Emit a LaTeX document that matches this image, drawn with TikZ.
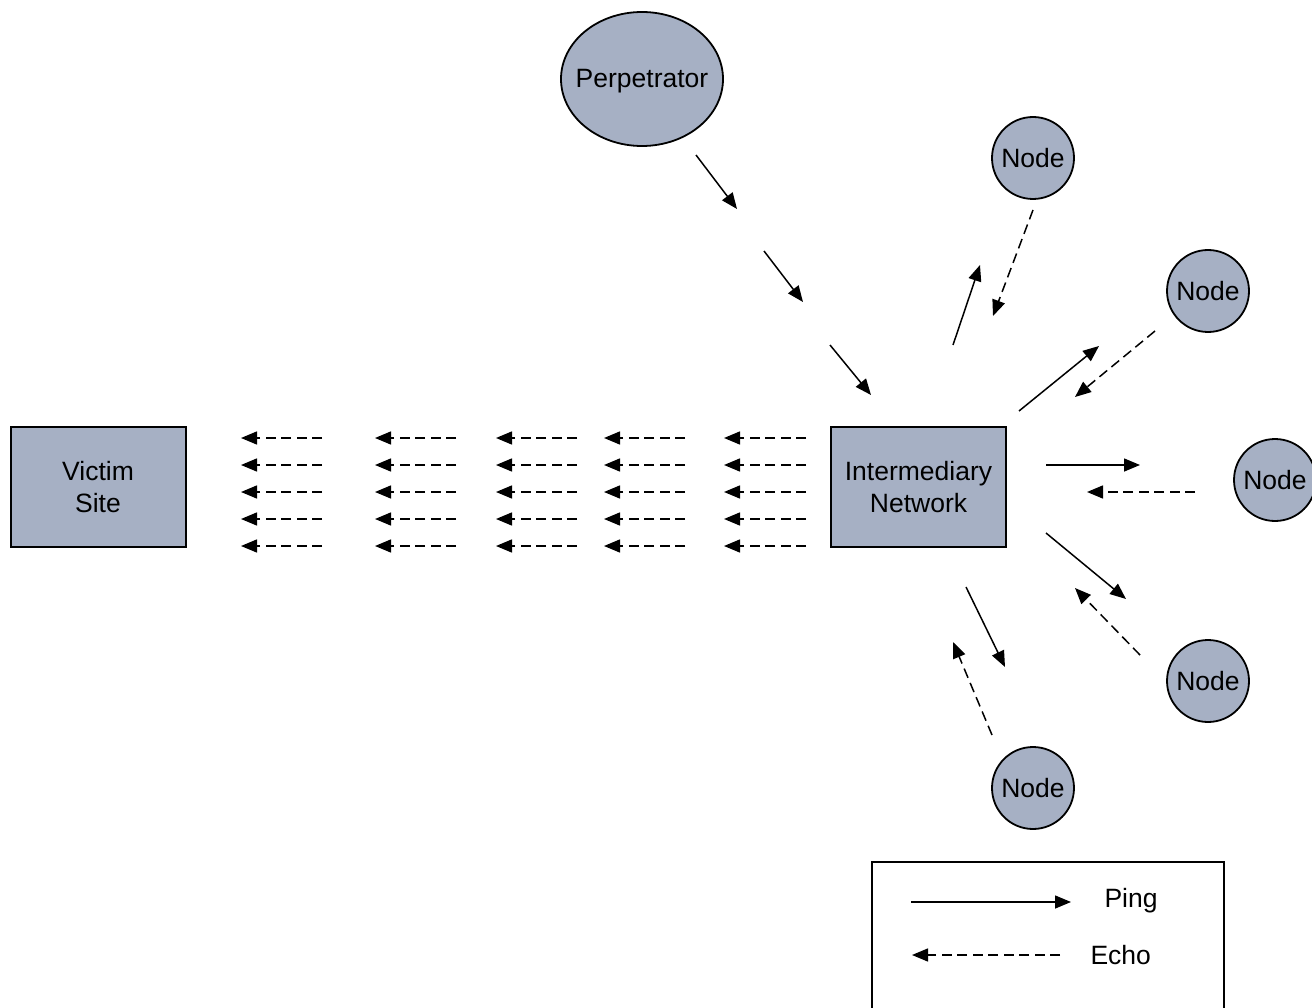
\documentclass[tikz,border=0pt]{standalone}
\usepackage{fontspec}
\setmainfont{Liberation Sans}
\usetikzlibrary{arrows.meta,shapes.geometric}
\definecolor{fillc}{RGB}{166,176,196}
\tikzset{
  shapebox/.style={draw=black, line width=2pt, fill=fillc, minimum width=175pt, minimum height=120pt, align=center, inner sep=0pt},
  netnode/.style={draw=black, line width=1.8pt, fill=fillc, circle, minimum size=82pt, inner sep=0pt},
  ping/.style={line width=1.5pt, -{Triangle[length=16pt,width=13pt]}},
  echo/.style={line width=1.5pt, dash pattern=on 10pt off 5.5pt, -{Triangle[length=16pt,width=13pt]}},
  every node/.style={font=\fontsize{26.5}{32}\selectfont}
}
\begin{document}
\begin{tikzpicture}[x=1pt,y=-1pt]
\useasboundingbox (0,0) rectangle (1312,1008);
% main shapes
\draw[line width=1.8pt, fill=fillc] (642,79) ellipse [x radius=81, y radius=67];
\node (perp) at (642,81) {Perpetrator};
\node[shapebox] (victim) at (98,487) {Victim\\Site};
\node[shapebox] (inter) at (918.5,487) {Intermediary\\Network};
\node[netnode] (n1) at (1033,158) {Node};
\node[netnode] (n2) at (1208,291) {Node};
\node[netnode] (n3) at (1275,480) {Node};
\node[netnode] (n4) at (1208,681) {Node};
\node[netnode] (n5) at (1033,788) {Node};
% perpetrator arrows
\draw[ping] (696,155) -- (737,209);
\draw[ping] (764,251) -- (803,302);
\draw[ping] (830,345) -- (871,395);
% node arrows
\draw[ping] (953,345) -- (980,265);
\draw[echo] (1033,210) -- (993,316);
\draw[ping] (1019,411) -- (1099,346);
\draw[echo] (1155,331) -- (1075,397);
\draw[ping] (1046,465) -- (1140,465);
\draw[echo] (1195,492) -- (1087,492);
\draw[ping] (1046,533) -- (1126,599);
\draw[echo] (1140,655) -- (1075,588);
\draw[ping] (966,587) -- (1005,667);
\draw[echo] (992,735) -- (953,642);
% flood of echoes toward victim
\foreach \xs/\xe in {322/241, 456/375, 577/496, 685/604, 806/724}{
  \foreach \y in {438,465,492,519,546}{
    \draw[echo] (\xs,\y) -- (\xe,\y);
  }
}
% legend
\draw[line width=2pt] (872,1010) -- (872,862) -- (1224,862) -- (1224,1010);
\coordinate (lp1) at (911,902);
\coordinate (lp2) at (1071,902);
\coordinate (le1) at (1060,955);
\coordinate (le2) at (912,955);
\draw[ping] (lp1) -- (lp2);
\draw[echo] (le1) -- (le2);
\node[anchor=west] (pinglbl) at (1101,901) {Ping};
\node[anchor=west] (echolbl) at (1087,955) {Echo};
\end{tikzpicture}
\end{document}
